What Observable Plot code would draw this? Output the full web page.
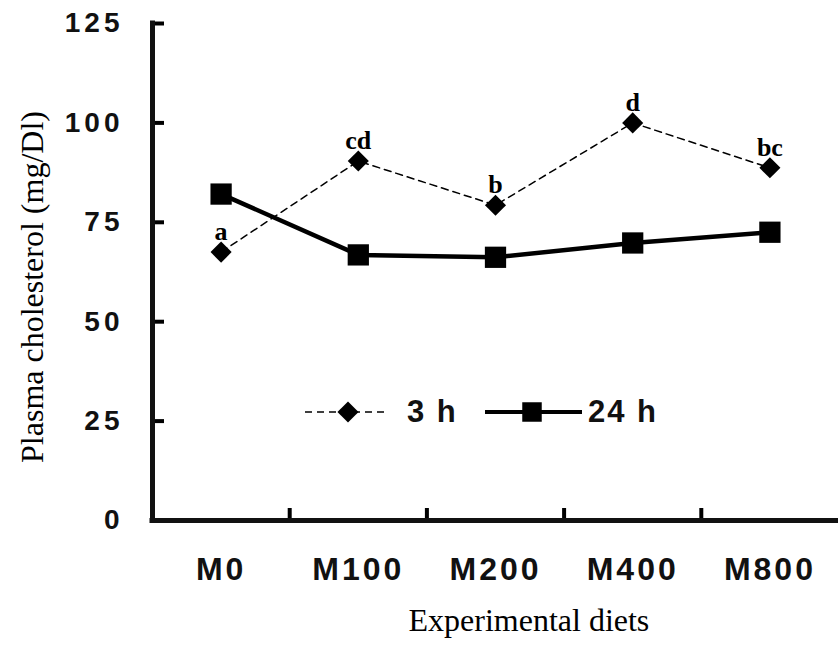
<!DOCTYPE html>
<html>
<head>
<meta charset="utf-8">
<script src="https://cdn.jsdelivr.net/npm/d3@7"></script>
<script src="https://cdn.jsdelivr.net/npm/@observablehq/plot@0.6"></script>
<style>
  html, body { margin: 0; padding: 0; background: #fff; }
  #wrap { position: relative; width: 838px; height: 649px; }
  #legend { position: absolute; left: 0; top: 0; pointer-events: none; }
</style>
</head>
<body>
<div id="wrap"></div>
<script>
// ---- data ----
const diets = ["M0", "M100", "M200", "M400", "M800"];
const values3h = [67.5, 90.4, 79.3, 100.0, 88.7];
const values24h = [82.1, 66.8, 66.2, 69.8, 72.5];
const letters3h = ["a", "cd", "b", "d", "bc"];
const seriesNames = ["3 h", "24 h"];
const yTicks = [0, 25, 50, 75, 100, 125];
const yTitle = "Plasma cholesterol (mg/Dl)";
const xTitle = "Experimental diets";

// category i sits in the middle of slot [i, i+1]
const rows3 = diets.map((d, i) => ({diet: d, xi: i + 0.5, value: values3h[i], letter: letters3h[i]}));
const rows24 = diets.map((d, i) => ({diet: d, xi: i + 0.5, value: values24h[i]}));
const centers = diets.map((d, i) => i + 0.5);
const bounds = diets.slice(1).map((d, i) => i + 1);

const sans = "'Liberation Sans', Arial, sans-serif";
const serif = "'Liberation Serif', 'Times New Roman', serif";

const chart = Plot.plot({
  width: 838,
  height: 649,
  marginLeft: 152,
  marginRight: 0,
  marginTop: 23,
  marginBottom: 129,
  style: {background: "#fff", fontFamily: sans, overflow: "visible"},
  x: {domain: [0, diets.length], axis: null},
  y: {domain: [0, 125], axis: null},
  marks: [
    // axis ticks (inward)
    Plot.axisY({ticks: yTicks, tickSize: -12, tickFormat: () => "", strokeWidth: 4, label: null}),
    Plot.axisX({ticks: bounds, tickSize: -12, tickFormat: () => "", strokeWidth: 4, label: null}),
    // tick labels
    Plot.axisY({ticks: yTicks, tickSize: 0, tickPadding: 29, fontSize: 28, fontWeight: "bold", label: null, fill: "#111"}),
    Plot.axisX({ticks: centers, tickSize: 0, tickPadding: 37, fontSize: 32, fontWeight: "bold", label: null, fill: "#111",
                tickFormat: v => diets[Math.floor(v)]}),
    // axis lines
    Plot.ruleX([0], {strokeWidth: 5, stroke: "#111", strokeLinecap: "square"}),
    Plot.ruleY([0], {strokeWidth: 5, stroke: "#111", strokeLinecap: "square"}),
    // series
    Plot.line(rows3, {x: "xi", y: "value", stroke: "#000", strokeWidth: 1.5, strokeDasharray: "7,5"}),
    Plot.line(rows24, {x: "xi", y: "value", stroke: "#000", strokeWidth: 4.5}),
    Plot.dot(rows3, {x: "xi", y: "value", symbol: "diamond2", r: 9.5, fill: "#000", stroke: null}),
    Plot.dot(rows24, {x: "xi", y: "value", symbol: "square", r: 12, fill: "#000", stroke: null}),
    Plot.text(rows3, {x: "xi", y: "value", text: "letter", lineAnchor: "bottom", dy: -12,
                      fontFamily: serif, fontWeight: "bold", fontSize: 26, fill: "#000"}),
    // titles
    Plot.text([yTitle], {frameAnchor: "left", textAnchor: "middle", dx: -120, dy: 15, rotate: -90,
                         fontFamily: serif, fontSize: 32, fill: "#000"}),
    Plot.text([xTitle], {frameAnchor: "bottom", textAnchor: "start", dx: -87, dy: 110,
                         fontFamily: serif, fontSize: 32, fill: "#000"})
  ]
});

document.getElementById("wrap").appendChild(chart);

d3.select(chart).selectAll('g[aria-label="y-axis tick label"] text').style("letter-spacing", "4px");
d3.select(chart).selectAll('g[aria-label="x-axis tick label"] text').style("letter-spacing", "3px");

// ---- legend overlay (inside plot area) ----
const lg = d3.select("#wrap").append("svg").attr("id", "legend").attr("width", 838).attr("height", 649);
const ly = 412;
lg.append("line").attr("x1", 305).attr("x2", 388).attr("y1", ly).attr("y2", ly)
  .attr("stroke", "#000").attr("stroke-width", 1.5).attr("stroke-dasharray", "7,5");
lg.append("path").attr("d", d3.symbol(d3.symbolDiamond2, Math.PI * 9.5 * 9.5)())
  .attr("transform", `translate(348,${ly})`).attr("fill", "#000");
lg.append("text").attr("x", 407).attr("y", ly + 10).text(seriesNames[0])
  .attr("font-family", sans).attr("font-weight", "bold").attr("font-size", 31)
  .attr("letter-spacing", "2px").attr("fill", "#111");
lg.append("line").attr("x1", 485).attr("x2", 582).attr("y1", ly).attr("y2", ly)
  .attr("stroke", "#000").attr("stroke-width", 4);
lg.append("path").attr("d", d3.symbol(d3.symbolSquare, Math.PI * 11 * 11)())
  .attr("transform", `translate(532,${ly})`).attr("fill", "#000");
lg.append("text").attr("x", 588).attr("y", ly + 10).text(seriesNames[1])
  .attr("font-family", sans).attr("font-weight", "bold").attr("font-size", 31)
  .attr("letter-spacing", "2px").attr("fill", "#111");
</script>
</body>
</html>
